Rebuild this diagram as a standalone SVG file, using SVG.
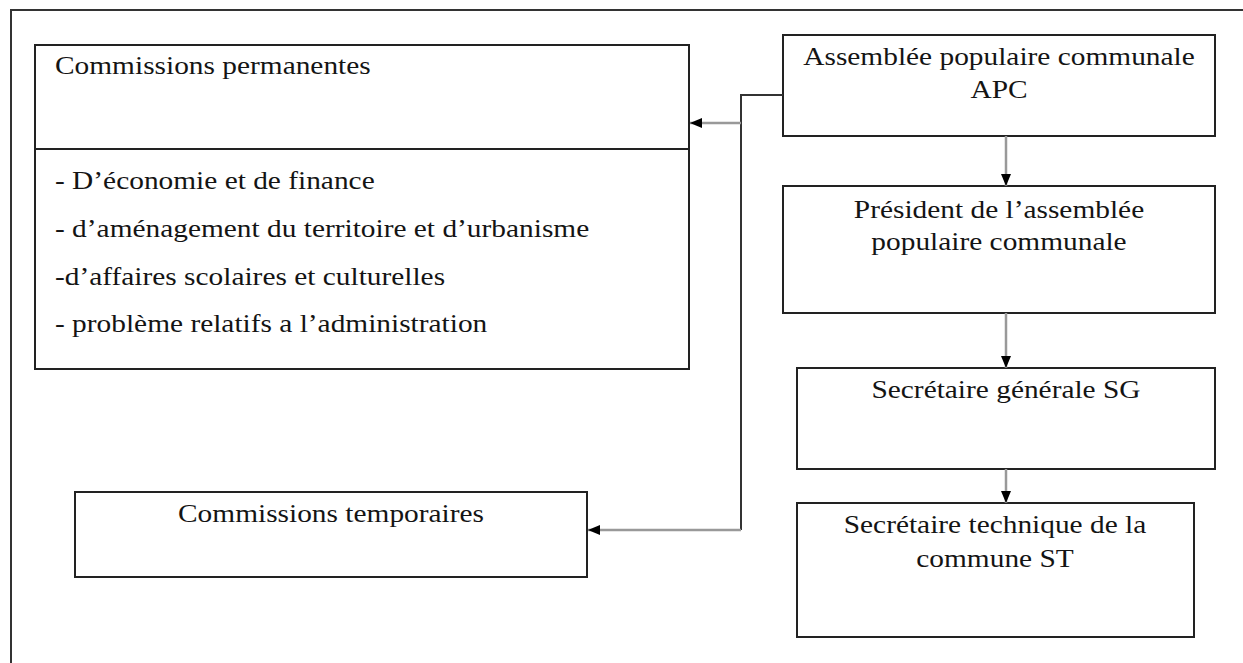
<svg xmlns="http://www.w3.org/2000/svg" width="1243" height="663" viewBox="0 0 1243 663">
<style>
.box{fill:#fff;stroke:#222;stroke-width:2}
.t{font-family:"Liberation Serif","Times New Roman",serif;font-size:26px;fill:#141414}
.c{text-anchor:middle}
.trunk{fill:none;stroke:#333;stroke-width:2}
.shaft{fill:none;stroke:#999;stroke-width:2.5}
</style>
<defs>
<marker id="ah" markerWidth="12" markerHeight="10" refX="12" refY="5" orient="auto" markerUnits="userSpaceOnUse">
<path d="M0,0 L12,5 L0,10 Z" fill="#000"/>
</marker>
</defs>
<rect x="11" y="10" width="1250" height="680" fill="#fff" stroke="#333" stroke-width="2"/>
<g id="commissions-permanentes">
<rect class="box" x="35" y="45" width="654" height="324"/>
<line x1="35" y1="149" x2="689" y2="149" stroke="#222" stroke-width="2"/>
<text class="t" transform="translate(55 0) scale(1.13 1)" x="0" y="74">Commissions permanentes</text>
<text class="t" transform="translate(55 0) scale(1.13 1)" x="0" y="189">- D’économie et de finance</text>
<text class="t" transform="translate(55 0) scale(1.13 1)" x="0" y="237">- d’aménagement du territoire et d’urbanisme</text>
<text class="t" transform="translate(55 0) scale(1.13 1)" x="0" y="285">-d’affaires scolaires et culturelles</text>
<text class="t" transform="translate(55 0) scale(1.13 1)" x="0" y="332">- problème relatifs a l’administration</text>
</g>
<g id="commissions-temporaires">
<rect class="box" x="75" y="492" width="512" height="85"/>
<text class="t c" transform="translate(331 0) scale(1.13 1)" x="0" y="522">Commissions temporaires</text>
</g>
<g id="apc">
<rect class="box" x="783" y="35" width="432" height="101"/>
<text class="t c" transform="translate(999 0) scale(1.13 1)" x="0" y="65">Assemblée populaire communale</text>
<text class="t c" transform="translate(999 0) scale(1.13 1)" x="0" y="98">APC</text>
</g>
<g id="president">
<rect class="box" x="783" y="186" width="432" height="127"/>
<text class="t c" transform="translate(999 0) scale(1.13 1)" x="0" y="218">Président de l’assemblée</text>
<text class="t c" transform="translate(999 0) scale(1.13 1)" x="0" y="250">populaire communale</text>
</g>
<g id="sg">
<rect class="box" x="797" y="368" width="418" height="101"/>
<text class="t c" transform="translate(1006 0) scale(1.13 1)" x="0" y="398">Secrétaire générale SG</text>
</g>
<g id="st">
<rect class="box" x="797" y="503" width="397" height="134"/>
<text class="t c" transform="translate(995 0) scale(1.13 1)" x="0" y="533">Secrétaire technique de la</text>
<text class="t c" transform="translate(995 0) scale(1.13 1)" x="0" y="567">commune ST</text>
</g>
<g id="connectors">
<polyline class="trunk" points="783,95 741,95 741,530"/>
<line class="shaft" x1="741" y1="530" x2="588" y2="530" marker-end="url(#ah)"/>
<line class="shaft" x1="741" y1="123" x2="690" y2="123" marker-end="url(#ah)"/>
<line class="shaft" x1="1006" y1="136" x2="1006" y2="186" marker-end="url(#ah)"/>
<line class="shaft" x1="1006" y1="313" x2="1006" y2="368" marker-end="url(#ah)"/>
<line class="shaft" x1="1006" y1="469" x2="1006" y2="503" marker-end="url(#ah)"/>
</g>
</svg>
